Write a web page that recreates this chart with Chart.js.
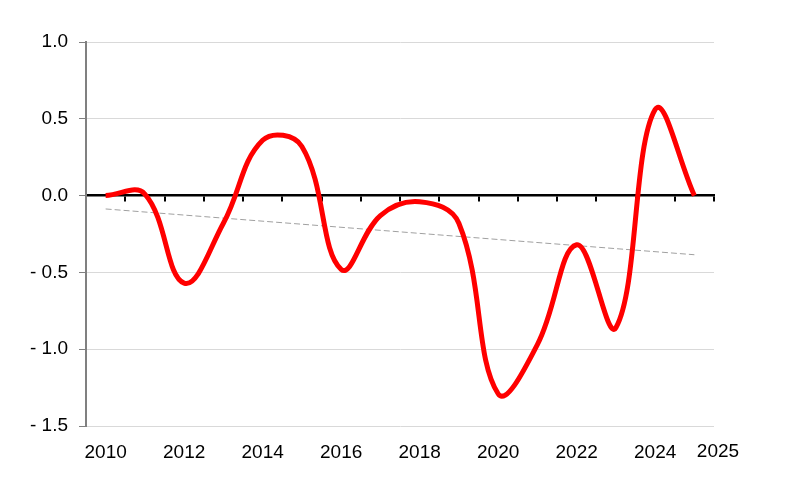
<!DOCTYPE html>
<html>
<head>
<meta charset="utf-8">
<script src="https://cdn.jsdelivr.net/npm/chart.js@4/dist/chart.umd.min.js"></script>
<style>
  html, body { margin: 0; padding: 0; background: #fff; }
  #wrap { width: 800px; height: 500px; }
</style>
</head>
<body>
<div id="wrap"><canvas id="chart" width="800" height="500"></canvas></div>
<script>
// -------------------- DATA --------------------
const years = ["2010", "2011", "2012", "2013", "2014", "2015", "2016", "2017",
               "2018", "2019", "2020", "2021", "2022", "2023", "2024", "2025"];
const values = [0.0, 0.01, -0.57, -0.18, 0.36, 0.32, -0.48, -0.13,
                -0.04, -0.18, -1.29, -0.97, -0.32, -0.86, 0.56, 0.0];
// dashed trend line, start and end
const trendYears = ["2010", "2025"];
const trendValues = [-0.087, -0.385];
const yTicks = { min: -1.5, max: 1.0, step: 0.5 };

const font = { family: "'Liberation Sans', Arial, sans-serif", size: 19 };

function yLabel(v) {
  if (v < 0) return "- " + Math.abs(v).toFixed(1);
  return v.toFixed(1);
}

// last year label sits on the right edge of the plot, not under a point
const edgeLabel = {
  id: "edgeLabel",
  afterDraw(chart) {
    const c = chart.ctx, a = chart.chartArea;
    c.save();
    c.font = font.size + "px " + font.family;
    c.fillStyle = "#000";
    c.textAlign = "center";
    c.textBaseline = "alphabetic";
    c.fillText(years[years.length - 1], a.right + 4, a.bottom + 31);
    c.restore();
  }
};

const ctx = document.getElementById("chart").getContext("2d");
new Chart(ctx, {
  type: "line",
  data: {
    labels: years,
    datasets: [{
      data: values,
      borderColor: "#ff0000",
      borderWidth: 5,
      pointRadius: 0,
      tension: 0.4,
      fill: false
    }, {
      data: trendYears.map((y, i) => ({ x: y, y: trendValues[i] })),
      borderColor: "#a0a0a0",
      borderWidth: 1,
      borderDash: [6, 3],
      pointRadius: 0,
      tension: 0,
      fill: false
    }]
  },
  options: {
    responsive: false,
    animation: false,
    layout: { padding: { top: 42, right: 86, left: 0, bottom: 0 } },
    plugins: { legend: { display: false }, tooltip: { enabled: false } },
    scales: {
      x: {
        type: "category",
        offset: true,
        grid: { display: false, drawTicks: false },
        border: { display: false },
        ticks: {
          autoSkip: false, maxRotation: 0, padding: 15,
          color: "#000", font: font,
          callback: (v, i) => (i % 2 === 0 && i < years.length - 1) ? years[i] : ""
        },
        afterFit: s => { s.height = 74; }
      },
      xZero: {
        type: "category",
        labels: years,
        offset: true,
        position: { y: 0 },
        grid: { offset: true, drawOnChartArea: false, drawTicks: true, tickLength: 5, color: "#000", lineWidth: 2 },
        border: { color: "#000", width: 2.5 },
        ticks: { display: false }
      },
      y: {
        min: yTicks.min, max: yTicks.max,
        grid: { color: "#d9d9d9", lineWidth: 1, tickLength: 7, tickColor: "#808080" },
        border: { color: "#808080", width: 2 },
        ticks: { stepSize: yTicks.step, padding: 11, color: "#000", font: font, callback: yLabel },
        afterFit: s => { s.width = 86; }
      }
    }
  },
  plugins: [edgeLabel]
});
</script>
</body>
</html>
